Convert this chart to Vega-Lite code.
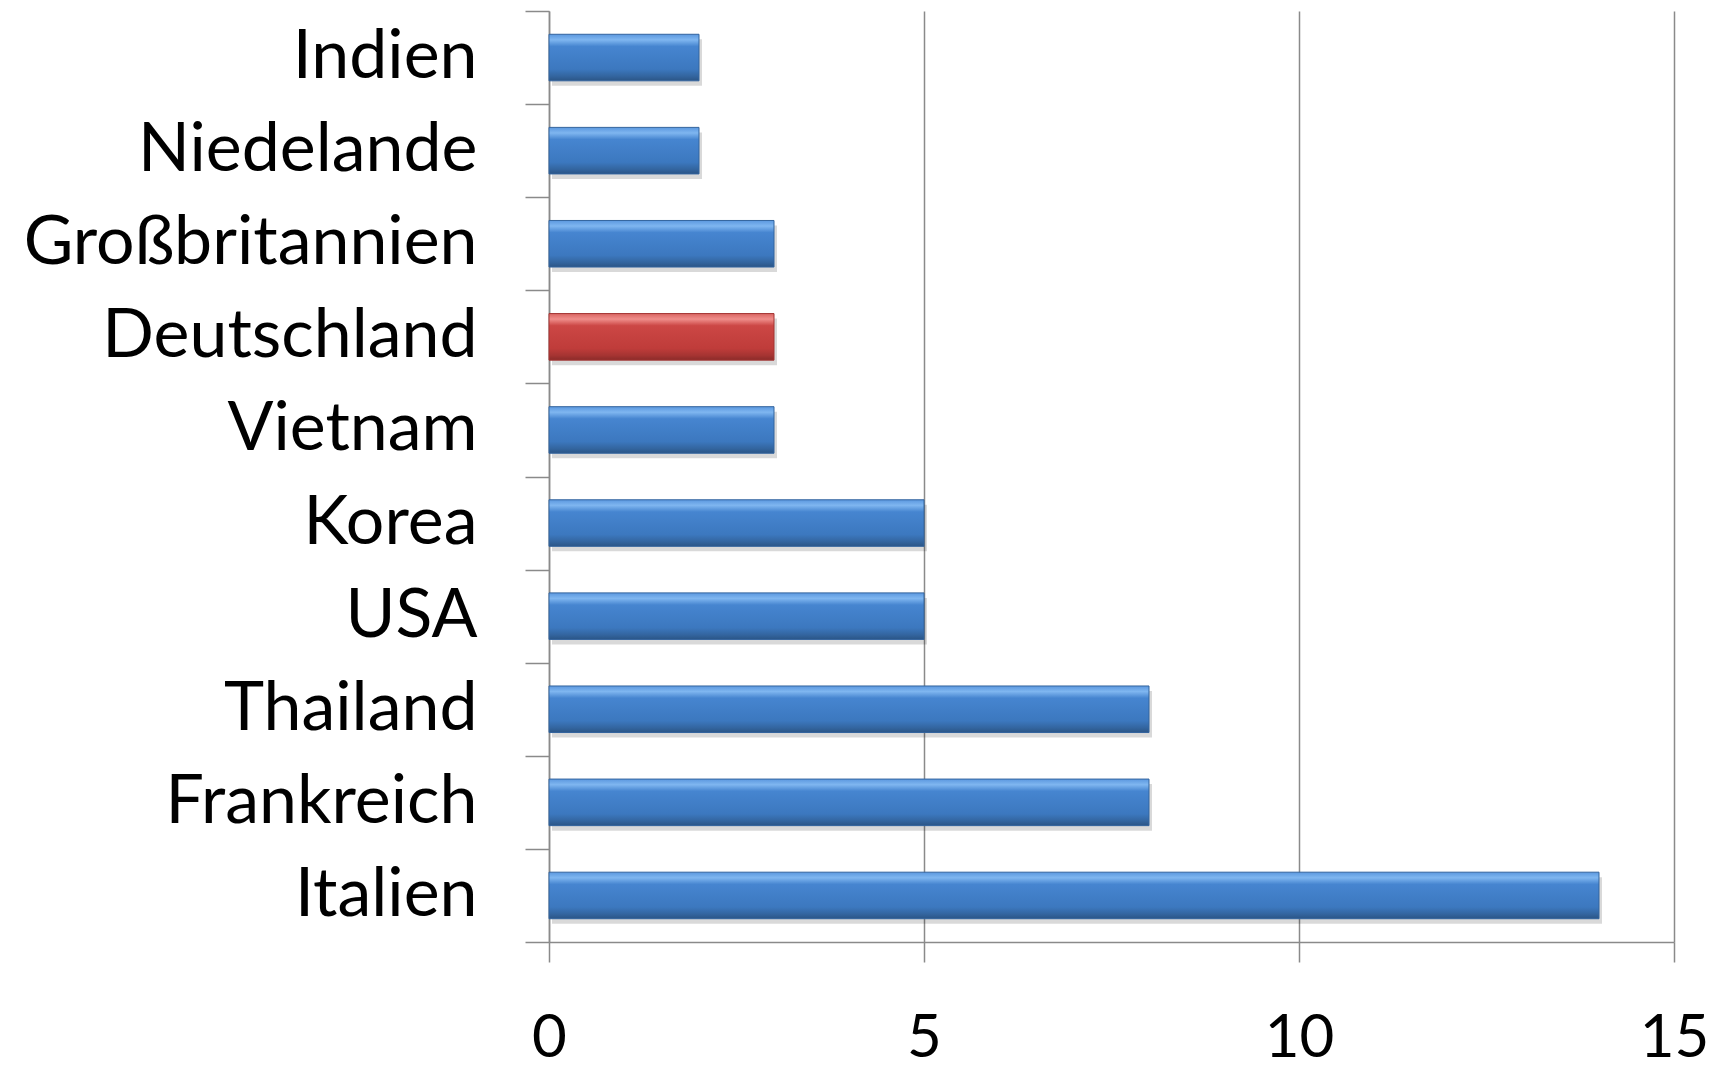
{
  "$schema": "https://vega.github.io/schema/vega-lite/v6.json",
  "autosize": {"type": "none"},
  "width": 1125,
  "height": 931,
  "padding": {"left": 549, "top": 11, "right": 43, "bottom": 126},
  "background": "white",
  "config": {"view": {"stroke": null}, "font": "Lato"},
  "data": {
    "values": [
      {"land": "Indien", "wert": 2},
      {"land": "Niedelande", "wert": 2},
      {"land": "Großbritannien", "wert": 3},
      {"land": "Deutschland", "wert": 3},
      {"land": "Vietnam", "wert": 3},
      {"land": "Korea", "wert": 5},
      {"land": "USA", "wert": 5},
      {"land": "Thailand", "wert": 8},
      {"land": "Frankreich", "wert": 8},
      {"land": "Italien", "wert": 14}
    ]
  },
  "encoding": {
    "y": {
      "field": "land",
      "type": "nominal",
      "sort": null,
      "scale": {"paddingInner": 0, "paddingOuter": 0},
      "axis": {
        "title": null,
        "tickBand": "extent",
        "domainColor": "#8a8a8a",
        "domainWidth": 1.5,
        "tickColor": "#8a8a8a",
        "tickWidth": 1.5,
        "tickSize": 24,
        "labelFont": "Lato",
        "labelFontSize": 68,
        "labelColor": "#000000",
        "labelPadding": 48,
        "labelLimit": 0
      }
    },
    "x": {
      "field": "wert",
      "type": "quantitative",
      "scale": {"domain": [0, 15], "nice": false},
      "axis": {
        "title": null,
        "values": [0, 5, 10, 15],
        "grid": true,
        "gridColor": "#8a8a8a",
        "gridWidth": 1.5,
        "domainColor": "#8a8a8a",
        "domainWidth": 1.5,
        "tickColor": "#8a8a8a",
        "tickWidth": 1.5,
        "tickSize": 20,
        "labelFont": "Lato",
        "labelFontSize": 60,
        "labelColor": "#000000",
        "labelBaseline": "alphabetic",
        "labelPadding": 94,
        "labelFlush": false,
        "labelOverlap": false
      }
    }
  },
  "layer": [
    {
      "mark": {"type": "bar", "height": {"band": 0.5}, "fill": "#000000", "opacity": 0.15, "xOffset": 3, "yOffset": 5}
    },
    {
      "mark": {"type": "bar", "height": {"band": 0.5}, "strokeWidth": 1},
      "encoding": {
        "fill": {
          "condition": {
            "test": "datum.land === 'Deutschland'",
            "value": {
              "gradient": "linear", "x1": 0, "y1": 0, "x2": 0, "y2": 1,
              "stops": [
                {"offset": 0, "color": "#d96562"},
                {"offset": 0.12, "color": "#ef8d8a"},
                {"offset": 0.26, "color": "#cc4745"},
                {"offset": 0.75, "color": "#bf3c3a"},
                {"offset": 0.9, "color": "#a53432"},
                {"offset": 1, "color": "#8a2b29"}
              ]
            }
          },
          "value": {
            "gradient": "linear", "x1": 0, "y1": 0, "x2": 0, "y2": 1,
            "stops": [
              {"offset": 0, "color": "#5b98df"},
              {"offset": 0.12, "color": "#7fb6f0"},
              {"offset": 0.26, "color": "#4685d0"},
              {"offset": 0.75, "color": "#3c78bf"},
              {"offset": 0.9, "color": "#33659f"},
              {"offset": 1, "color": "#2b5586"}
            ]
          }
        },
        "stroke": {
          "condition": {"test": "datum.land === 'Deutschland'", "value": "#a33432"},
          "value": "#33649e"
        }
      }
    }
  ]
}
